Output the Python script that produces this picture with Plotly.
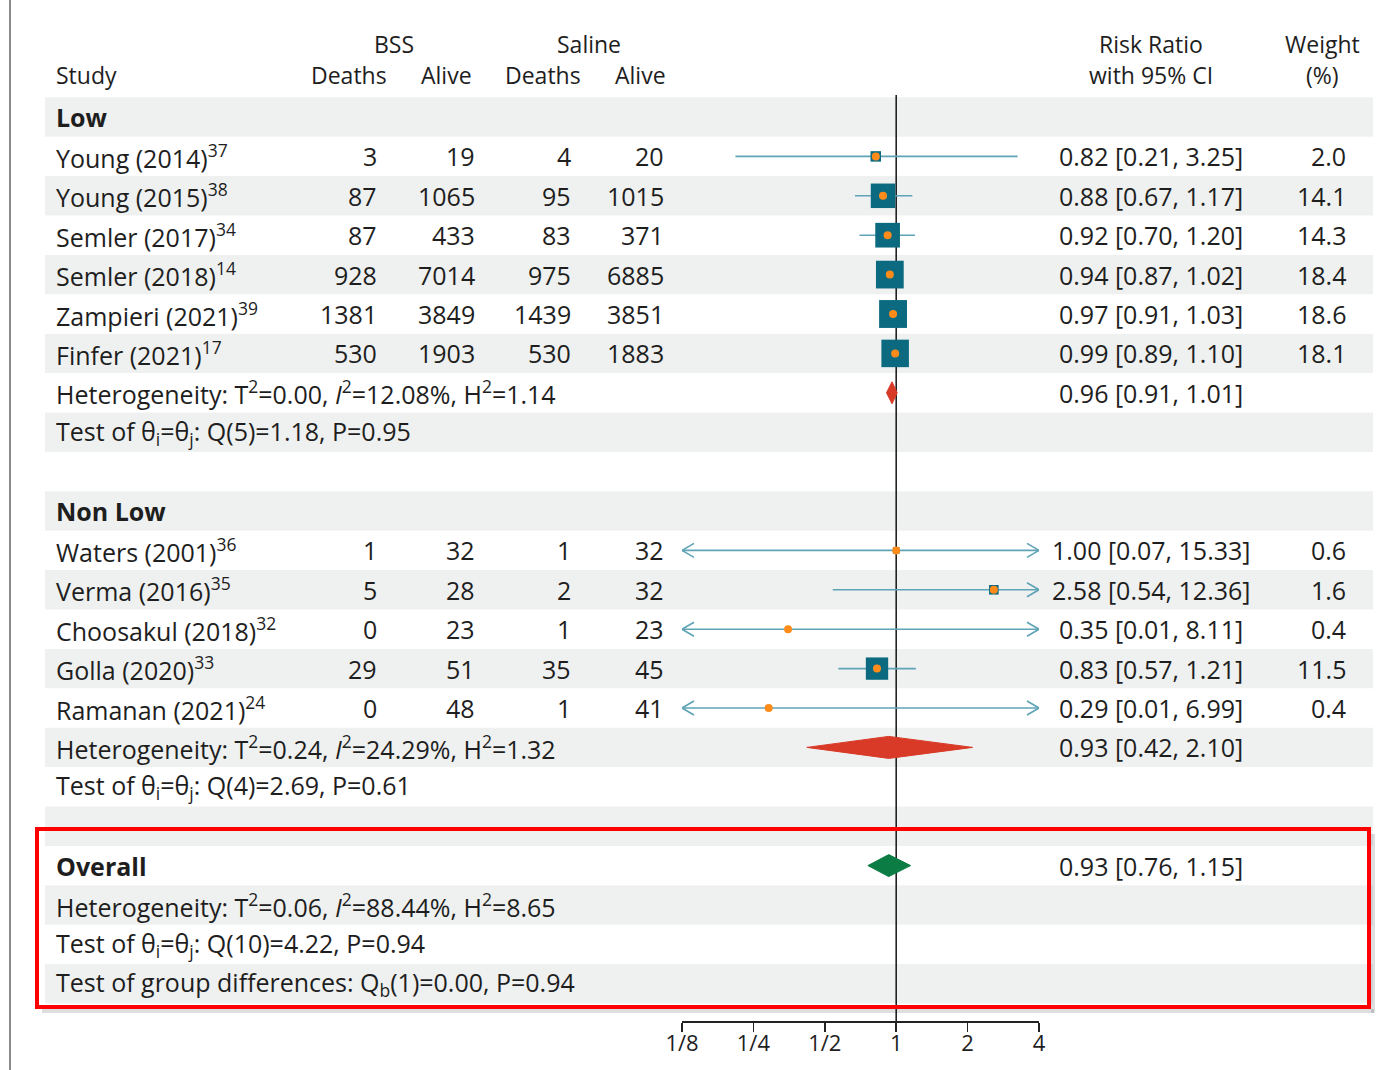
import math
import plotly.graph_objects as go

# ---------------- data ----------------
studies = ["Young (2014)", "Young (2015)", "Semler (2017)", "Semler (2018)", "Zampieri (2021)",
           "Finfer (2021)", "Waters (2001)", "Verma (2016)", "Choosakul (2018)", "Golla (2020)",
           "Ramanan (2021)"]
refs = [37, 38, 34, 14, 39, 17, 36, 35, 32, 33, 24]
groups = ["Low"] * 6 + ["Non Low"] * 5
bss_deaths = [3, 87, 87, 928, 1381, 530, 1, 5, 0, 29, 0]
bss_alive = [19, 1065, 433, 7014, 3849, 1903, 32, 28, 23, 51, 48]
sal_deaths = [4, 95, 83, 975, 1439, 530, 1, 2, 1, 35, 1]
sal_alive = [20, 1015, 371, 6885, 3851, 1883, 32, 32, 23, 45, 41]
rr = [0.82, 0.88, 0.92, 0.94, 0.97, 0.99, 1.00, 2.58, 0.35, 0.83, 0.29]
rr_lo = [0.21, 0.67, 0.70, 0.87, 0.91, 0.89, 0.07, 0.54, 0.01, 0.57, 0.01]
rr_hi = [3.25, 1.17, 1.20, 1.02, 1.03, 1.10, 15.33, 12.36, 8.11, 1.21, 6.99]
weights = [2.0, 14.1, 14.3, 18.4, 18.6, 18.1, 0.6, 1.6, 0.4, 11.5, 0.4]

group_names = ["Low", "Non Low"]
group_rr = [0.96, 0.93]
group_lo = [0.91, 0.42]
group_hi = [1.01, 2.10]
group_het = ["Heterogeneity: T<sup>2</sup>=0.00, <i>I</i><sup>2</sup>=12.08%, H<sup>2</sup>=1.14",
             "Heterogeneity: T<sup>2</sup>=0.24, <i>I</i><sup>2</sup>=24.29%, H<sup>2</sup>=1.32"]
group_test = ["Test of θ<sub>i</sub>=θ<sub>j</sub>: Q(5)=1.18, P=0.95",
              "Test of θ<sub>i</sub>=θ<sub>j</sub>: Q(4)=2.69, P=0.61"]

overall_rr, overall_lo, overall_hi = 0.93, 0.76, 1.15
overall_het = "Heterogeneity: T<sup>2</sup>=0.06, <i>I</i><sup>2</sup>=88.44%, H<sup>2</sup>=8.65"
overall_test = "Test of θ<sub>i</sub>=θ<sub>j</sub>: Q(10)=4.22, P=0.94"
overall_groupdiff = "Test of group differences: Q<sub>b</sub>(1)=0.00, P=0.94"

tick_vals = [1 / 8, 1 / 4, 1 / 2, 1, 2, 4]
tick_text = ["1/8", "1/4", "1/2", "1", "2", "4"]
AX_MIN, AX_MAX = tick_vals[0], tick_vals[-1]

# ---------------- layout geometry ----------------
W, H = 1390, 1070
ROW0_PX, ROW_PX = 117, 39.4
X_LO_PX, X_HI_PX = 682, 1039
AXIS_PX = 1021
FONT = "Open Sans"
FS = 25
FS_HEAD = 23
TXT = "#1e1e1e"
TEAL = "#0b6a7f"
ORANGE = "#ff8c1a"
CI_COL = "#5ea3b6"
RED = "#d83a27"
GREEN = "#0b7d44"
STRIPE = "#eff1f0"


def row_of_px(p):
    return (p - ROW0_PX) / ROW_PX


def px(x):
    return x / W


# row assignment
r = 0
row_of_study = {}
group_rows = {}
for g_i, g in enumerate(group_names):
    group_rows[g] = {"header": r}
    r += 1
    for s_i, s in enumerate(studies):
        if groups[s_i] == g:
            row_of_study[s_i] = r
            r += 1
    group_rows[g]["het"] = r
    r += 1
    group_rows[g]["test"] = r
    r += 1
    r += 1  # blank
overall_row = r
n_rows = r + 4

fig = go.Figure()

# stripes
shapes = []
for i in range(n_rows):
    if i % 2 == 0:
        shapes.append(dict(type="rect", xref="paper", yref="y", x0=px(45), x1=px(1373),
                           y0=i - 0.5, y1=i + 0.5, fillcolor=STRIPE, line_width=0, layer="below"))
# left page rule
shapes.append(dict(type="line", xref="paper", yref="paper", x0=px(10), x1=px(10), y0=0, y1=1,
                   line=dict(color="#8a8a8a", width=2)))
# red highlight box with soft shadow
bx0, bx1 = 37, 1369
by0, by1 = 829, 1007
shapes.append(dict(type="rect", xref="paper", yref="paper", x0=px(bx0 + 5), x1=px(bx1 + 5),
                   y0=1 - (by1 + 6) / H, y1=1 - (by1 + 2) / H, fillcolor="rgba(0,0,0,0.13)", line_width=0))
shapes.append(dict(type="rect", xref="paper", yref="paper", x0=px(bx1 + 2), x1=px(bx1 + 6),
                   y0=1 - (by1 + 6) / H, y1=1 - (by0 + 5) / H, fillcolor="rgba(0,0,0,0.13)", line_width=0))
shapes.append(dict(type="rect", xref="paper", yref="paper", x0=px(bx0), x1=px(bx1),
                   y0=1 - by1 / H, y1=1 - by0 / H, line=dict(color="#ff0000", width=4),
                   fillcolor="rgba(0,0,0,0)"))

annotations = []


def add_text(xp, y, text, anchor="left", bold=False, yref="y", size=FS):
    if bold:
        text = "<b>" + text + "</b>"
    annotations.append(dict(x=px(xp), xref="paper", y=y, yref=yref, text=text, showarrow=False,
                            xanchor=anchor, yanchor="middle", borderpad=0,
                            font=dict(family=FONT, size=size, color=TXT)))


# headers
hy1 = row_of_px(44)
hy2 = row_of_px(75)
add_text(394, hy1, "BSS", "center", size=FS_HEAD)
add_text(589, hy1, "Saline", "center", size=FS_HEAD)
add_text(55, hy2, "Study", size=FS_HEAD)
add_text(349, hy2, "Deaths", "center", size=FS_HEAD)
add_text(446, hy2, "Alive", "center", size=FS_HEAD)
add_text(543, hy2, "Deaths", "center", size=FS_HEAD)
add_text(640, hy2, "Alive", "center", size=FS_HEAD)
add_text(1151, hy1, "Risk Ratio", "center", size=FS_HEAD)
add_text(1151, hy2, "with 95% CI", "center", size=FS_HEAD)
add_text(1322, hy1, "Weight", "center", size=FS_HEAD)
add_text(1322, hy2, "(%)", "center", size=FS_HEAD)

# study rows
for s_i, s in enumerate(studies):
    y = row_of_study[s_i]
    add_text(55, y, f"{s}<sup>{refs[s_i]}</sup>")
    add_text(378, y, str(bss_deaths[s_i]), "right")
    add_text(476, y, str(bss_alive[s_i]), "right")
    add_text(572, y, str(sal_deaths[s_i]), "right")
    add_text(665, y, str(sal_alive[s_i]), "right")
    add_text(1151, y, f"{rr[s_i]:.2f} [{rr_lo[s_i]:.2f}, {rr_hi[s_i]:.2f}]", "center")
    add_text(1347, y, f"{weights[s_i]:.1f}", "right")

# group rows
for g_i, g in enumerate(group_names):
    gr = group_rows[g]
    add_text(55, gr["header"], g, bold=True)
    add_text(55, gr["het"], group_het[g_i])
    add_text(55, gr["test"], group_test[g_i])
    add_text(1151, gr["het"], f"{group_rr[g_i]:.2f} [{group_lo[g_i]:.2f}, {group_hi[g_i]:.2f}]", "center")

add_text(55, overall_row, "Overall", bold=True)
add_text(1151, overall_row, f"{overall_rr:.2f} [{overall_lo:.2f}, {overall_hi:.2f}]", "center")
add_text(55, overall_row + 1, overall_het)
add_text(55, overall_row + 2, overall_test)
add_text(55, overall_row + 3, overall_groupdiff)

# reference line at RR = 1
fig.add_trace(go.Scatter(x=[1, 1], y=[row_of_px(95), row_of_px(AXIS_PX)], mode="lines",
                         line=dict(color="#222222", width=1.6), hoverinfo="skip", showlegend=False))

# CI lines and arrows
ci_x, ci_y = [], []
arr_x, arr_y = [], []
ARROW_F = 2 ** (12 / ((X_HI_PX - X_LO_PX) / 5))  # ~12 px back along log axis
ARROW_H = 7 / ROW_PX
for s_i in range(len(studies)):
    y = row_of_study[s_i]
    a = max(rr_lo[s_i], AX_MIN)
    b = min(rr_hi[s_i], AX_MAX)
    ci_x += [a, b, None]
    ci_y += [y, y, None]
    if rr_lo[s_i] < AX_MIN:
        arr_x += [AX_MIN * ARROW_F, AX_MIN, AX_MIN * ARROW_F, None]
        arr_y += [y - ARROW_H, y, y + ARROW_H, None]
    if rr_hi[s_i] > AX_MAX:
        arr_x += [AX_MAX / ARROW_F, AX_MAX, AX_MAX / ARROW_F, None]
        arr_y += [y - ARROW_H, y, y + ARROW_H, None]
fig.add_trace(go.Scatter(x=ci_x, y=ci_y, mode="lines", line=dict(color=CI_COL, width=1.6),
                         hoverinfo="skip", showlegend=False))
fig.add_trace(go.Scatter(x=arr_x, y=arr_y, mode="lines", line=dict(color=CI_COL, width=1.6),
                         hoverinfo="skip", showlegend=False))

# weighted squares + point dots
ys = [row_of_study[i] for i in range(len(studies))]
fig.add_trace(go.Scatter(x=rr, y=ys, mode="markers",
                         marker=dict(symbol="square", color=TEAL, opacity=1,
                                     size=[6 * math.sqrt(w) + 2 for w in weights], line_width=0),
                         cliponaxis=False, hoverinfo="skip", showlegend=False))
fig.add_trace(go.Scatter(x=rr, y=ys, mode="markers",
                         marker=dict(symbol="circle", color=ORANGE, size=8, opacity=1, line_width=0),
                         cliponaxis=False, hoverinfo="skip", showlegend=False))

# diamonds
DH = 11 / ROW_PX


def diamond(est, lo, hi, y, color):
    fig.add_trace(go.Scatter(x=[lo, est, hi, est, lo], y=[y, y - DH, y, y + DH, y], mode="lines",
                             fill="toself", fillcolor=color, line=dict(color=color, width=1),
                             hoverinfo="skip", showlegend=False))


for g_i, g in enumerate(group_names):
    diamond(group_rr[g_i], group_lo[g_i], group_hi[g_i], group_rows[g]["het"], RED)
diamond(overall_rr, overall_lo, overall_hi, overall_row, GREEN)

fig.update_layout(
    template="none",
    width=W, height=H, margin=dict(l=0, r=0, t=0, b=0, pad=0, autoexpand=False),
    paper_bgcolor="white", plot_bgcolor="rgba(0,0,0,0)",
    shapes=shapes, annotations=annotations, showlegend=False,
    xaxis=dict(type="log", range=[math.log10(AX_MIN), math.log10(AX_MAX)],
               domain=[X_LO_PX / W, X_HI_PX / W], anchor="free", position=1 - AXIS_PX / H,
               showline=True, linecolor="#222222", linewidth=1.6, automargin=False,
               ticks="outside", ticklen=9, tickwidth=1.6, tickcolor="#222222",
               tickvals=tick_vals, ticktext=tick_text, ticklabelstandoff=-7,
               tickfont=dict(family=FONT, size=22, color=TXT),
               showgrid=False, zeroline=False, fixedrange=True),
    yaxis=dict(range=[row_of_px(H), row_of_px(0)], domain=[0, 1], visible=False, automargin=False,
               showgrid=False, zeroline=False, fixedrange=True),
    font=dict(family=FONT, size=FS, color=TXT),
)

fig.write_html("out.html", config={"displayModeBar": False, "staticPlot": True},
               post_script="document.body.style.margin='0';document.body.style.overflow='hidden';")
